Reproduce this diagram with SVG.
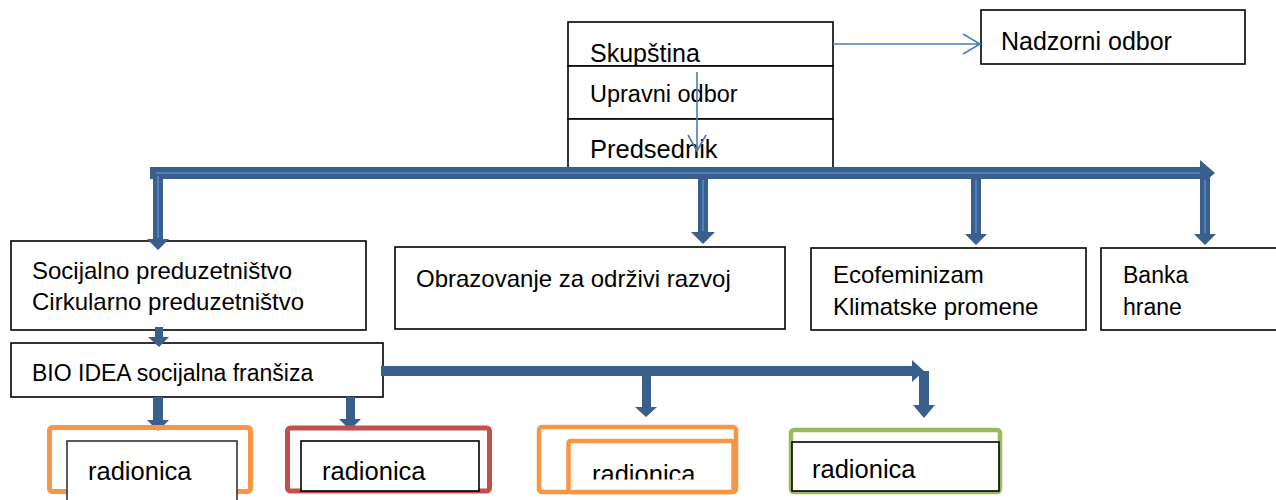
<svg xmlns="http://www.w3.org/2000/svg" width="1276" height="500" viewBox="0 0 1276 500">
<defs>
<style>
.box{fill:#fff;stroke:#000;stroke-width:1.6}
.t{font-family:"Liberation Sans",Arial,sans-serif;font-size:24px;fill:#000}
.blk{fill:#3a5f8c}
.hl{stroke:#4f81bd;stroke-width:2;fill:none}
.thin{stroke:#4a7ebb;stroke-width:1.6;fill:none}
</style>
<clipPath id="clip3"><rect x="560" y="440" width="180" height="39.5"/></clipPath>
</defs>
<rect width="1276" height="500" fill="#fff"/>

<g id="skupstina"><rect class="box" x="568" y="22" width="265" height="44"/><text class="t" x="590" y="62" style="font-size:25px">Skupština</text></g>
<g id="upravni-odbor"><rect class="box" x="568" y="66" width="265" height="53"/><text class="t" x="590" y="102" style="font-size:23.5px">Upravni odbor</text></g>
<g id="predsednik"><rect class="box" x="568" y="119" width="265" height="54"/><text class="t" x="590" y="158" style="font-size:25.5px">Predsednik</text></g>
<g id="nadzorni-odbor"><rect class="box" x="981" y="10" width="264" height="54"/><text class="t" x="1001" y="50" style="font-size:25px">Nadzorni odbor</text></g>

<g id="socijalno"><rect class="box" x="11" y="241" width="355" height="89"/><text class="t" x="32" y="279">Socijalno preduzetništvo</text><text class="t" x="32" y="310">Cirkularno preduzetništvo</text></g>
<g id="obrazovanje"><rect class="box" x="395" y="247" width="390" height="82"/><text class="t" x="416" y="287">Obrazovanje za održivi razvoj</text></g>
<g id="ecofeminizam"><rect class="box" x="811" y="248" width="275" height="82"/><text class="t" x="833" y="283">Ecofeminizam</text><text class="t" x="833" y="315">Klimatske promene</text></g>
<g id="banka"><rect class="box" x="1101" y="248" width="185" height="82"/><text class="t" x="1123" y="283" style="font-size:23px">Banka</text><text class="t" x="1123" y="315" style="font-size:23px">hrane</text></g>
<g id="bio-idea"><rect class="box" x="11" y="343" width="372" height="54"/><text class="t" x="32" y="381" style="font-size:23px">BIO IDEA socijalna franšiza</text></g>

<g id="connectors">
<path class="thin" d="M833,44 H980 M963,34 L980,44 L963,54"/>
<path class="thin" d="M697,72 V151 M688,135 L697,151 L706,135"/>
<path class="blk" d="M150,167 H1200 V160 L1215,173 L1200,186 V179 H150 Z"/>
<path class="blk" d="M153,173 H163 V239 H169 L158,250 L147,239 H153 Z"/>
<path class="blk" d="M698,178 H708 V232 H715 L703,244 L691,232 H698 Z"/>
<path class="blk" d="M971,178 H981 V234 H987 L976,245 L965,234 H971 Z"/>
<path class="blk" d="M1200,173 H1210 V234 H1216 L1205,245 L1194,234 H1200 Z"/>
<path class="hl" d="M156,173 H1200 M158,176 V238 M703,180 V231 M976,180 V233 M1205,180 V233"/>
<path class="blk" d="M155,327 H163 V337 H169 L159,347 L148,337 H155 Z"/>
<path class="blk" d="M381,366 H912 V360 L924,371 L912,382 V376 H381 Z"/>
<path class="blk" d="M919,371 H929 V405 H935 L924,418 L913,405 H919 Z"/>
<path class="blk" d="M642,375 H651 V407 H657 L646,417 L635,407 H642 Z"/>
<path class="blk" d="M153,397 H163 V420 H169 L158,431 L147,420 H153 Z"/>
<path class="blk" d="M346,397 H355 V419 H361 L350,430 L339,419 H346 Z"/>
</g>

<g id="radionica-1"><rect x="49.5" y="427.5" width="201" height="64" rx="3" fill="none" stroke="#f79646" stroke-width="5"/><rect class="box" x="67" y="441" width="170" height="70" style="stroke:#333"/><text class="t" x="88" y="480" style="font-size:25.5px">radionica</text></g>
<g id="radionica-2"><rect x="287.5" y="428" width="202" height="63" rx="3" fill="none" stroke="#c0504d" stroke-width="5"/><rect class="box" x="301" y="441" width="178" height="50"/><text class="t" x="322" y="480" style="font-size:25.5px">radionica</text></g>
<g id="radionica-3"><rect x="539" y="427" width="197" height="65" rx="3" fill="none" stroke="#f79646" stroke-width="4.5"/><rect x="568.5" y="441" width="165" height="51" rx="2" fill="#fff" stroke="#f79646" stroke-width="4.5"/><text class="t" x="592" y="483" clip-path="url(#clip3)" style="font-size:25.5px">radionica</text></g>
<g id="radionica-4"><rect x="791" y="430" width="209" height="62" rx="3" fill="none" stroke="#9bbb59" stroke-width="4.5"/><rect class="box" x="792" y="442" width="207" height="49"/><text class="t" x="812" y="478" style="font-size:25.5px">radionica</text></g>
</svg>
